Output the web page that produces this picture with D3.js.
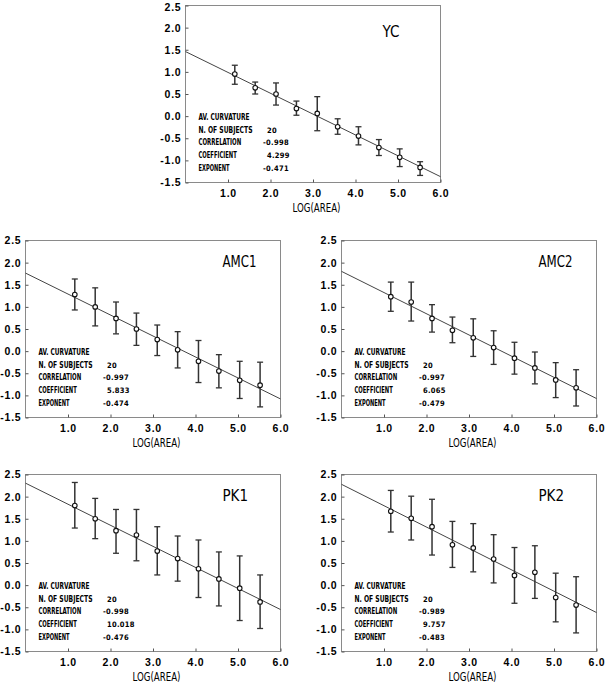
<!DOCTYPE html>
<html><head><meta charset="utf-8">
<script src="https://cdn.jsdelivr.net/npm/d3@7"></script>
<style>body{margin:0;background:#fff}</style>
</head><body><svg id="c" width="605" height="684"></svg>
<script>
// ---------- data ----------
const panelNames = ["YC", "AMC1", "AMC2", "PK1", "PK2"];
const logArea = [1.16, 1.64, 2.13, 2.61, 3.10, 3.58, 4.07, 4.55, 5.04, 5.52];

const ycMean   = [0.95, 0.64, 0.50, 0.17, 0.06, -0.24, -0.45, -0.71, -0.93, -1.16];
const ycHigh   = [1.15, 0.77, 0.75, 0.34, 0.44, -0.06, -0.24, -0.53, -0.74, -1.03];
const ycLow    = [0.72, 0.50, 0.25, 0.02, -0.33, -0.41, -0.65, -0.89, -1.14, -1.34];

const amc1Mean = [1.28, 1.00, 0.74, 0.50, 0.26, 0.03, -0.23, -0.45, -0.66, -0.77];
const amc1High = [1.63, 1.43, 1.11, 0.86, 0.59, 0.44, 0.24, -0.08, -0.23, -0.25];
const amc1Low  = [0.93, 0.57, 0.39, 0.13, -0.10, -0.38, -0.71, -0.83, -1.07, -1.26];

const amc2Mean = [1.23, 1.11, 0.74, 0.47, 0.30, 0.08, -0.16, -0.38, -0.65, -0.83];
const amc2High = [1.56, 1.56, 1.05, 0.77, 0.73, 0.46, 0.20, -0.02, -0.26, -0.42];
const amc2Low  = [0.90, 0.68, 0.43, 0.19, -0.12, -0.30, -0.52, -0.74, -1.05, -1.24];

const pk1Mean  = [1.80, 1.50, 1.23, 1.13, 0.77, 0.60, 0.37, 0.14, -0.07, -0.38];
const pk1High  = [2.32, 1.96, 1.71, 1.71, 1.32, 1.11, 1.02, 0.75, 0.66, 0.23];
const pk1Low   = [1.29, 1.05, 0.72, 0.55, 0.23, 0.09, -0.28, -0.47, -0.80, -0.98];

const pk2Mean  = [1.67, 1.51, 1.32, 0.91, 0.84, 0.59, 0.22, 0.29, -0.28, -0.45];
const pk2High  = [2.14, 2.01, 1.94, 1.44, 1.39, 1.14, 0.85, 0.89, 0.27, 0.19];
const pk2Low   = [1.20, 1.02, 0.68, 0.40, 0.30, 0.05, -0.41, -0.30, -0.83, -1.08];

const nSubjects   = ["20", "20", "20", "20", "20"];
const correlation = ["-0.998", "-0.997", "-0.997", "-0.998", "-0.989"];
const coefficient = ["4.299", "5.833", "6.065", "10.018", "9.757"];
const exponent    = ["-0.471", "-0.474", "-0.479", "-0.476", "-0.483"];

const xTickValues = [1, 2, 3, 4, 5, 6];
const yTickValues = [-1.5, -1.0, -0.5, 0.0, 0.5, 1.0, 1.5, 2.0, 2.5];
const xAxisTitle = "LOG(AREA)";
const statLabels = ["AV. CURVATURE", "N. OF SUBJECTS", "CORRELATION", "COEFFICIENT", "EXPONENT"];

const means = [ycMean, amc1Mean, amc2Mean, pk1Mean, pk2Mean];
const highs = [ycHigh, amc1High, amc2High, pk1High, pk2High];
const lows  = [ycLow, amc1Low, amc2Low, pk1Low, pk2Low];

// ---------- layout ----------
const panelPos = [[185.5, 5.5], [25.5, 240.5], [341.5, 240.5], [25.5, 474.5], [341.5, 474.5]];
const titleDy = [31, 26.5, 26.5, 26.5, 26.5];
const W = 255, H = 177;

const svg = d3.select("#c");
svg.append("rect").attr("width", 605).attr("height", 684).attr("fill", "#fff");

const tickFont = "'Liberation Sans', Arial, sans-serif";
const narrowFont = "'Liberation Sans Narrow', 'Arial Narrow', 'DejaVu Sans Condensed', sans-serif";

panelNames.forEach((name, p) => {
  const [px, py] = panelPos[p];
  const g = svg.append("g").attr("transform", `translate(${px},${py})`);
  const x = d3.scaleLinear().domain([0, 6]).range([0, W]);
  const y = d3.scaleLinear().domain([-1.5, 2.5]).range([H, 0]);

  // frame
  g.append("rect").attr("width", W).attr("height", H)
    .attr("fill", "none").attr("stroke", "#8a8a8a").attr("stroke-width", 1);

  // y axis
  const yAxis = d3.axisLeft(y).tickValues(yTickValues).tickSize(-3).tickPadding(4)
    .tickFormat(d => d3.format(".1f")(d).replace("−", "-"));
  const ya = g.append("g").call(yAxis);
  ya.select(".domain").remove();
  ya.selectAll("line").attr("stroke", "#555");
  ya.selectAll("text").attr("font-family", tickFont).attr("font-weight", "bold")
    .attr("font-size", 10.5).attr("letter-spacing", "0.8px").attr("fill", "#000");
  if (p === 0) ya.selectAll("text").filter(d => d === 2.5).attr("dy", "0.5em");

  // x axis
  const xAxis = d3.axisBottom(x).tickValues(xTickValues).tickSize(-3).tickPadding(7)
    .tickFormat(d3.format(".1f"));
  const xa = g.append("g").attr("transform", `translate(0,${H})`).call(xAxis);
  xa.select(".domain").remove();
  xa.selectAll("line").attr("stroke", "#555");
  xa.selectAll("text").attr("font-family", tickFont).attr("font-weight", "bold")
    .attr("font-size", 10.5).attr("letter-spacing", "0.8px").attr("fill", "#000");

  g.append("text").attr("x", 131).attr("y", H + 29.5).attr("text-anchor", "middle")
    .attr("font-family", narrowFont).attr("font-size", 12.5).attr("fill", "#000")
    .attr("textLength", 48).attr("lengthAdjust", "spacingAndGlyphs")
    .text(xAxisTitle);

  // fit line from coefficient and exponent
  const a = Math.log(+coefficient[p]), b = +exponent[p];
  g.append("line").attr("x1", x(0)).attr("y1", y(a)).attr("x2", x(6)).attr("y2", y(a + 6 * b))
    .attr("stroke", "#444").attr("stroke-width", 1);

  // error bars
  const bars = g.append("g");
  logArea.forEach((lx, i) => {
    const cx = x(lx);
    bars.append("line").attr("x1", cx).attr("x2", cx).attr("y1", y(highs[p][i])).attr("y2", y(lows[p][i]))
      .attr("stroke", "#333").attr("stroke-width", 1.5);
    [highs[p][i], lows[p][i]].forEach(v => {
      bars.append("line").attr("x1", cx - 3).attr("x2", cx + 3).attr("y1", y(v)).attr("y2", y(v))
        .attr("stroke", "#333").attr("stroke-width", 1.3);
    });
  });
  g.append("g").selectAll("circle").data(means[p]).join("circle")
    .attr("cx", (d, i) => x(logArea[i])).attr("cy", d => y(d)).attr("r", 2.3)
    .attr("fill", "#fff").attr("stroke", "#111").attr("stroke-width", 1.1);

  // title
  g.append("text").attr("x", 197).attr("y", titleDy[p])
    .attr("font-family", narrowFont).attr("font-size", 15.5).attr("fill", "#000")
    .attr("textLength", name.length * 8.5).attr("lengthAdjust", "spacingAndGlyphs")
    .text(name);

  // statistics block
  const values = ["", nSubjects[p], correlation[p], coefficient[p], exponent[p]];
  const labelWidths = [51, 54, 42.7, 38.3, 31];
  statLabels.forEach((lab, k) => {
    const ty = 114.3 + k * 12.7;
    g.append("text").attr("x", 13).attr("y", ty)
      .attr("font-family", narrowFont).attr("font-weight", "bold").attr("font-size", 8)
      .attr("fill", "#000").attr("textLength", labelWidths[k]).attr("lengthAdjust", "spacingAndGlyphs")
      .text(lab);
    const v = values[k];
    if (v) {
      g.append("text").attr("x", v.startsWith("-") ? 77.5 : 81.5).attr("y", ty)
        .attr("font-family", narrowFont).attr("font-weight", "bold").attr("font-size", 7.5)
        .attr("fill", "#000").attr("letter-spacing", "0.3px")
        .text(v);
    }
  });
});
</script>
</body></html>
